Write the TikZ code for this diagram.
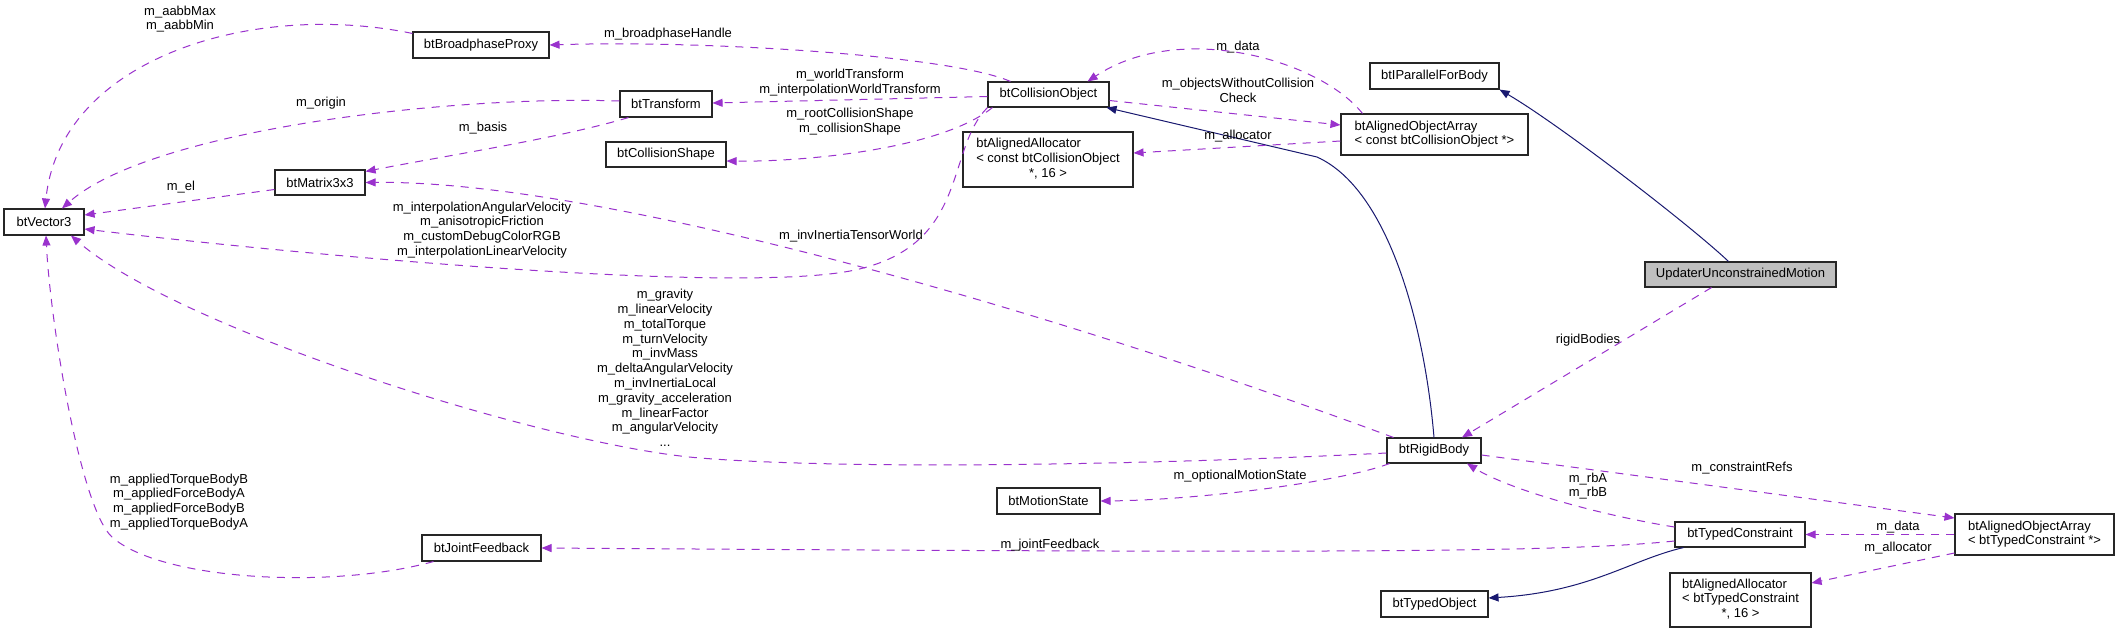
\documentclass[tikz,border=0pt]{standalone}
\usepackage{fontspec}
\setmainfont{Liberation Sans}
\usetikzlibrary{arrows.meta}
\definecolor{edgep}{HTML}{9A32CD}
\definecolor{edgeb}{HTML}{191970}
\begin{document}
\begin{tikzpicture}[x=1pt,y=-1pt,
  box/.style={draw=black!85, line width=1.1pt, fill=white, inner sep=0pt, font=\fontsize{13}{14.8}\selectfont, align=center},
  lbl/.style={inner sep=0pt, font=\fontsize{13}{14.8}\selectfont, align=center},
  use/.style={draw=edgep, line width=1pt, dash pattern=on 8pt off 7pt, -{Triangle[length=10pt,width=8pt]}},
  inh/.style={draw=edgeb, line width=1pt, -{Triangle[length=10pt,width=8pt]}}]
\fill[white] (0,0) rectangle (2120,633);
\useasboundingbox (0,0) rectangle (2120,633);

% nodes
\node[box, minimum width=80pt, minimum height=26pt] (v3) at (44,222) {btVector3};
\node[box, minimum width=136pt, minimum height=26pt] (bbp) at (481,45) {btBroadphaseProxy};
\node[box, minimum width=92pt, minimum height=26pt] (btt) at (666,104) {btTransform};
\node[box, minimum width=120pt, minimum height=25pt] (bcs) at (666,154.5) {btCollisionShape};
\node[box, minimum width=90pt, minimum height=25pt] (bm) at (320,182.5) {btMatrix3x3};
\node[box, minimum width=121pt, minimum height=25pt] (bco) at (1048.5,94.5) {btCollisionObject};
\node[box, minimum width=170pt, minimum height=55pt] (al1) at (1048,159.5) {\begin{tabular}{@{}l@{}}btAlignedAllocator\\{}< const btCollisionObject\\\multicolumn{1}{@{}c@{}}{*, 16 >}\end{tabular}};
\node[box, minimum width=187pt, minimum height=41pt] (aoa1) at (1434.5,134.5) {\begin{tabular}{@{}l@{}}btAlignedObjectArray\\{}< const btCollisionObject *>\end{tabular}};
\node[box, minimum width=129pt, minimum height=26pt] (bipf) at (1434.5,76) {btIParallelForBody};
\node[box, fill=black!25, minimum width=191pt, minimum height=25pt] (upd) at (1740.5,274.5) {UpdaterUnconstrainedMotion};
\node[box, minimum width=119pt, minimum height=26pt] (bjf) at (481.5,548) {btJointFeedback};
\node[box, minimum width=103pt, minimum height=26pt] (bms) at (1048.5,501) {btMotionState};
\node[box, minimum width=94pt, minimum height=25pt] (brb) at (1434,450.5) {btRigidBody};
\node[box, minimum width=130pt, minimum height=25pt] (btc) at (1740,534.5) {btTypedConstraint};
\node[box, minimum width=159pt, minimum height=41pt] (aoa2) at (2034.5,534.5) {\begin{tabular}{@{}l@{}}btAlignedObjectArray\\{}< btTypedConstraint *>\end{tabular}};
\node[box, minimum width=107pt, minimum height=26pt] (bto) at (1434.5,604) {btTypedObject};
\node[box, minimum width=141pt, minimum height=54pt] (al2) at (1740.5,600) {\begin{tabular}{@{}l@{}}btAlignedAllocator\\{}< btTypedConstraint\\\multicolumn{1}{@{}c@{}}{*, 16 >}\end{tabular}};

% edges
\draw[use] ([yshift=-2pt]bbp.north west) .. controls (250,0) and (60,60) .. ([xshift=1pt]v3.north);
\draw[use] ([xshift=23pt]bco.north west) .. controls (950,55) and (700,40) .. (bbp.east);
\draw[use] ([yshift=-2pt]bco.west) -- ([yshift=1pt]btt.east);
\draw[use] ([yshift=3pt]btt.west) .. controls (450,95) and (150,130) .. ([xshift=18pt]v3.north);
\draw[use] ([xshift=9pt]btt.south west) .. controls (560,138) and (450,155) .. ([yshift=-2pt]bm.north east);
\draw[use] ([yshift=-7pt]bm.west) -- ([yshift=7pt]v3.east);
\draw[use] ([xshift=5pt]bco.south west) .. controls (940,150) and (800,162) .. ([yshift=-6.5pt]bcs.east);
\draw[use] (bco.south west) .. controls (945,150) and (970,245) .. (855,270) .. controls (740,295) and (300,255) .. ([yshift=-7pt]v3.east);
\draw[use] ([xshift=7pt]brb.north west) .. controls (1050,310) and (600,180) .. (bm.east);
\draw[use] ([yshift=-2.5pt]brb.west) .. controls (1150,465) and (850,470) .. (700,458) .. controls (550,446) and (180,330) .. ([xshift=27pt]v3.south);
\draw[inh] (brb.north) .. controls (1425,330) and (1390,190) .. (1317,157) -- ([xshift=-3pt]bco.south east);
\draw[use] ([yshift=-6pt]bco.east) -- ([yshift=9.5pt]aoa1.west);
\draw[use] ([xshift=22pt]aoa1.north west) .. controls (1320,60) and (1180,20) .. ([xshift=-22pt]bco.north east);
\draw[use] ([yshift=-6.5pt]aoa1.west) -- ([yshift=6.5pt]al1.east);
\draw[inh] ([xshift=-12pt]upd.north) .. controls (1690,225) and (1560,125) .. (bipf.south east);
\draw[use] ([xshift=-29pt]upd.south) -- ([xshift=28pt]brb.north);
\draw[use] ([xshift=3pt]brb.south west) .. controls (1340,482) and (1200,500) .. (bms.east);
\draw[use] ([yshift=-4.5pt]brb.east) -- ([yshift=16.5pt]aoa2.west);
\draw[use] ([yshift=7.5pt]btc.west) .. controls (1600,515) and (1510,490) .. ([xshift=33pt]brb.south);
\draw[use] ([yshift=-6.5pt]btc.west) .. controls (1560,553) and (1300,553) .. (bjf.east);
\draw[inh] ([xshift=9pt]btc.south west) .. controls (1630,560) and (1590,592) .. ([yshift=6pt]bto.east);
\draw[use] (aoa2.west) -- (btc.east);
\draw[use] ([yshift=-18.5pt]aoa2.west) -- ([yshift=17pt]al2.east);
\draw[use] ([xshift=-48pt]bjf.south) .. controls (330,590) and (160,580) .. (112,537) .. controls (80,508) and (50,320) .. ([xshift=2pt]v3.south);

% labels
\node[lbl] (l1) at (180,19) {m\_aabbMax\\m\_aabbMin};
\node[lbl] (l2) at (668,34) {m\_broadphaseHandle};
\node[lbl] (l3) at (850,83) {m\_worldTransform\\m\_interpolationWorldTransform};
\node[lbl] (l4) at (321,103) {m\_origin};
\node[lbl] (l5) at (483,128) {m\_basis};
\node[lbl] (l6) at (181,187) {m\_el};
\node[lbl] (l7) at (850,122) {m\_rootCollisionShape\\m\_collisionShape};
\node[lbl] (l8) at (482,230) {m\_interpolationAngularVelocity\\m\_anisotropicFriction\\m\_customDebugColorRGB\\m\_interpolationLinearVelocity};
\node[lbl] (l9) at (851,236) {m\_invInertiaTensorWorld};
\node[lbl] (l10) at (665,368) {m\_gravity\\m\_linearVelocity\\m\_totalTorque\\m\_turnVelocity\\m\_invMass\\m\_deltaAngularVelocity\\m\_invInertiaLocal\\m\_gravity\_acceleration\\m\_linearFactor\\m\_angularVelocity\\...};
\node[lbl] (l11) at (1238,90.5) {m\_objectsWithoutCollision\\Check};
\node[lbl] (l12) at (1238,47) {m\_data};
\node[lbl] (l13) at (1238,136) {m\_allocator};
\node[lbl] (l14) at (1588,340) {rigidBodies};
\node[lbl] (l15) at (1240,476) {m\_optionalMotionState};
\node[lbl] (l16) at (1742,468) {m\_constraintRefs};
\node[lbl] (l17) at (1588,486) {m\_rbA\\m\_rbB};
\node[lbl] (l18) at (1050,545) {m\_jointFeedback};
\node[lbl] (l19) at (1898,527) {m\_data};
\node[lbl] (l20) at (1898,548) {m\_allocator};
\node[lbl] (l21) at (179,502) {m\_appliedTorqueBodyB\\m\_appliedForceBodyA\\m\_appliedForceBodyB\\m\_appliedTorqueBodyA};
\end{tikzpicture}
\end{document}
